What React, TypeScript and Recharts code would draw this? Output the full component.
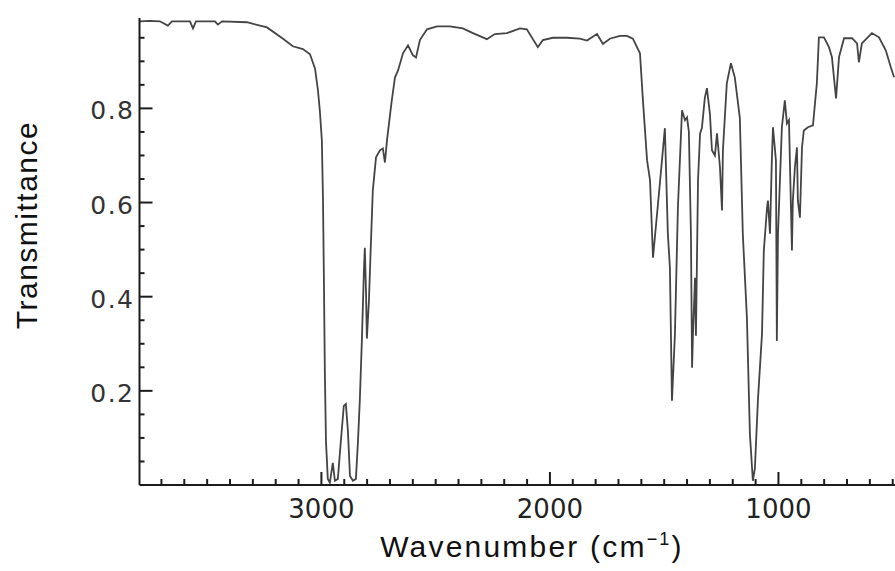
import React from 'react';
import { LineChart, Line, XAxis, YAxis, Label } from 'recharts';

const wavenumbers = [
  3796, 3751, 3707, 3672, 3654, 3575, 3562, 3549, 3466, 3453, 3435, 3326, 3238, 3168, 3125, 3081,
  3050, 3028, 3015, 3007, 2998, 2993, 2989, 2985, 2980, 2972, 2963, 2950, 2941, 2928, 2915, 2902,
  2893, 2884, 2875, 2862, 2849, 2840, 2832, 2823, 2814, 2810, 2805, 2801, 2792, 2783, 2775, 2761,
  2744, 2731, 2722, 2713, 2700, 2692, 2678, 2665, 2643, 2621, 2600, 2586, 2569, 2538, 2494, 2438,
  2381, 2337, 2276, 2241, 2188, 2131, 2101, 2053, 2031, 1987, 1926, 1869, 1838, 1794, 1768, 1738,
  1694, 1663, 1637, 1606, 1593, 1575, 1562, 1549, 1519, 1497, 1484, 1475, 1466, 1453, 1440, 1422,
  1409, 1400, 1392, 1383, 1378, 1374, 1365, 1361, 1352, 1343, 1335, 1322, 1313, 1300, 1291, 1278,
  1269, 1256, 1247, 1243, 1226, 1208, 1191, 1169, 1156, 1138, 1125, 1112, 1103, 1090, 1072, 1064,
  1050, 1046, 1037, 1029, 1024, 1011, 1007, 1002, 985, 972, 963, 954, 941, 937, 928, 919,
  915, 906, 897, 889, 871, 849, 832, 823, 801, 779, 766, 748, 735, 713, 678, 656,
  648, 635, 591, 560, 530, 508, 494,
];

// Transmittance at each wavenumber above
const transmittance = [
  0.985, 0.986, 0.985, 0.976, 0.985, 0.985, 0.97, 0.985, 0.985, 0.978, 0.985, 0.983, 0.972, 0.948, 0.932, 0.926,
  0.915, 0.885, 0.838, 0.796, 0.732, 0.604, 0.434, 0.243, 0.093, 0.013, 0.005, 0.047, 0.009, 0.013, 0.093, 0.168,
  0.172, 0.115, 0.019, 0.009, 0.013, 0.093, 0.179, 0.306, 0.455, 0.504, 0.413, 0.311, 0.392, 0.519, 0.626, 0.696,
  0.711, 0.715, 0.685, 0.732, 0.785, 0.817, 0.866, 0.88, 0.917, 0.934, 0.913, 0.908, 0.945, 0.968, 0.974, 0.974,
  0.97, 0.96, 0.947, 0.958, 0.96, 0.97, 0.968, 0.93, 0.945, 0.95, 0.95, 0.948, 0.944, 0.958, 0.937, 0.948,
  0.954, 0.954, 0.948, 0.917, 0.817, 0.69, 0.647, 0.483, 0.64, 0.758, 0.534, 0.462, 0.179, 0.321, 0.589, 0.796,
  0.775, 0.781, 0.75, 0.534, 0.249, 0.321, 0.44, 0.317, 0.647, 0.747, 0.758, 0.823, 0.843, 0.789, 0.711, 0.7,
  0.747, 0.675, 0.583, 0.711, 0.853, 0.896, 0.866, 0.78, 0.534, 0.355, 0.109, 0.009, 0.036, 0.179, 0.321, 0.498,
  0.589, 0.604, 0.534, 0.689, 0.76, 0.689, 0.306, 0.534, 0.76, 0.817, 0.768, 0.775, 0.498, 0.604, 0.675, 0.717,
  0.604, 0.568, 0.717, 0.753, 0.76, 0.764, 0.853, 0.951, 0.951, 0.93, 0.909, 0.821, 0.909, 0.949, 0.949, 0.938,
  0.898, 0.938, 0.96, 0.951, 0.923, 0.887, 0.866,
];

const xTicks = [
  3700, 3600, 3500, 3400, 3300, 3200, 3100, 3000, 2900, 2800, 2700, 2600, 2500, 2400, 2300, 2200, 2100,
  2000, 1900, 1800, 1700, 1600, 1500, 1400, 1300, 1200, 1100, 1000, 900, 800, 700, 600, 500,
];
const xLabelTicks = [3000, 2000, 1000];
const yTicks = [
  0.05, 0.1, 0.15, 0.2, 0.25, 0.3, 0.35, 0.4, 0.45, 0.5, 0.55, 0.6, 0.65, 0.7, 0.75, 0.8, 0.85, 0.9, 0.95,
];
const yLabelTicks = [0.2, 0.4, 0.6, 0.8];

const data = wavenumbers.map((w, i) => ({ wn: w, t: transmittance[i] }));

const INK = '#1c1c1c';

const XTick = (props: any) => {
  const { x, y, payload } = props;
  const major = xLabelTicks.includes(payload.value);
  return (
    <g>
      <path d={`M${x},${y}V${y - (major ? 13 : 6)}`} stroke={INK} strokeWidth={2} fill="none" />
      {major && (
        <text x={x} y={y + 33} textAnchor="middle" fontFamily="DejaVu Sans" fontSize={26} fill="#222">
          {payload.value}
        </text>
      )}
    </g>
  );
};

const YTick = (props: any) => {
  const { x, y, payload } = props;
  const major = yLabelTicks.some((v) => Math.abs(v - payload.value) < 1e-6);
  return (
    <g>
      <path d={`M${x},${y}H${x + (major ? 13 : 5)}`} stroke={INK} strokeWidth={2} fill="none" />
      {major && (
        <text x={x - 5} y={y + 11} textAnchor="end" fontFamily="DejaVu Sans" fontSize={25} letterSpacing={1.5} fill="#333">
          {payload.value.toFixed(1)}
        </text>
      )}
    </g>
  );
};

export default function App() {
  return (
    <div style={{ position: 'absolute', left: 0, top: 0, width: 895, height: 571, background: '#fff' }}>
      <LineChart width={895} height={571} data={data} margin={{ top: 18, right: 0, bottom: 0, left: 0 }}>
        <XAxis
          dataKey="wn"
          type="number"
          domain={[490, 3796]}
          reversed
          allowDataOverflow
          ticks={xTicks}
          interval={0}
          tickSize={0}
          tickMargin={0}
          tickLine={false}
          tick={<XTick />}
          height={86}
          axisLine={{ stroke: INK, strokeWidth: 2 }}
        >
          <Label
            content={() => (
              <text x={532} y={557} textAnchor="middle" fontFamily="Liberation Sans" fontSize={30} letterSpacing={2.2} fill="#111">
                Wavenumber (cm
                <tspan fontSize={18} dy={-12}>−1</tspan>
                <tspan fontSize={30} dy={12}>)</tspan>
              </text>
            )}
          />
        </XAxis>
        <XAxis
          xAxisId="top"
          orientation="top"
          type="number"
          domain={[490, 3796]}
          reversed
          allowDataOverflow
          tick={false}
          tickLine={false}
          height={0}
          axisLine={{ stroke: INK, strokeWidth: 2 }}
        />
        <YAxis
          type="number"
          domain={[0, 0.992]}
          allowDataOverflow
          ticks={yTicks}
          interval={0}
          tickSize={0}
          tickMargin={0}
          tickLine={false}
          tick={<YTick />}
          width={139.5}
          axisLine={{ stroke: INK, strokeWidth: 2 }}
        >
          <Label
            content={() => (
              <text
                x={37}
                y={225}
                transform="rotate(-90, 37, 225)"
                textAnchor="middle"
                fontFamily="Liberation Sans"
                fontSize={30}
                letterSpacing={1.5}
                fill="#111"
              >
                Transmittance
              </text>
            )}
          />
        </YAxis>
        <Line
          type="linear"
          dataKey="t"
          stroke="#444"
          strokeWidth={1.8}
          dot={false}
          activeDot={false}
          isAnimationActive={false}
        />
      </LineChart>
    </div>
  );
}
